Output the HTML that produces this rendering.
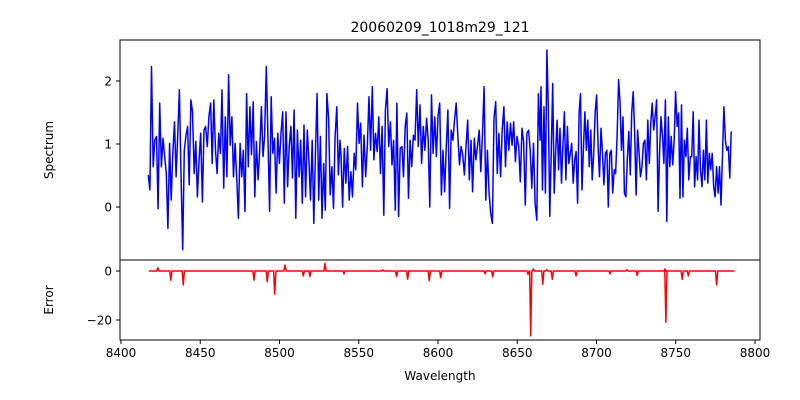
<!DOCTYPE html>
<html><head><meta charset="utf-8"><style>
body{margin:0;background:#fff}
svg{display:block;font-family:"DejaVu Sans","Liberation Sans",sans-serif}
</style></head><body>
<svg id="chart" width="800" height="400" xmlns="http://www.w3.org/2000/svg">
<rect width="800" height="400" fill="#fff"/>
<text x="440" y="32" text-anchor="middle" font-size="14">20060209_1018m29_121</text>
<text transform="translate(53,150) rotate(-90)" text-anchor="middle" font-size="12">Spectrum</text>
<text transform="translate(53,300) rotate(-90)" text-anchor="middle" font-size="12">Error</text>
<text x="440" y="380" text-anchor="middle" font-size="12">Wavelength</text>
<g id="g"></g>
</svg>
<script>
const xTicks=[8400,8450,8500,8550,8600,8650,8700,8750,8800];
const specTicks=[0,1,2];
const errTicks=[-20,0];
const seg1=[.51,.27,2.23,.64,1.06,1.12,-.03,1.65,.64,1.09,.8,.53,-.34,1.01,.11,.85,1.35,.48,1.17,1.86,.53,-.68,.9,1.14,1.28,.35,1.7,1.51,.53,1.04,.16,.75,1.17,.08,1.22,1.28,.96,1.43,1.65,.69,1.7,.9,.53,1.17,.85,1.86,.3,1.43,.48,2.1,.98,1.43,.48,1.01,.43,-.18,1.01,.48,.9,-.07,1.8,.64,1.59,.83,1.67,.16,1.04,.43,.9,1.59,.8,1.12,2.23,1.14,-.07,1.75,.85,1.09,.22,1.17,.69,1.17,1.51,.06,1.51,.32,.96,1.28,.46,1.54,-.18,1.22,.48,1.06,.06,1.3,.16,1.22,.75,.11,1.06,-.26,.9,1.8,.11,1.12,-.18,.69,-.05,1.8,1.41,.19,.64,-.02,1.12,1.59,.51,1.06];
const seg2=[.83,0,.93,.38,.96,.11,.56,.16,.85,.59,1.65,1.01,1.33,.32,1.14,.48,.96,1.75,.9,1.91,.75,1.17,.88,1.43,.53,1.28,-.13,1.54,1.88,.96,1.35,.67,1.06,-.05,1.65,-.15,.93,.96,.48,1.28,1.49,.14,1.06,.64,1.14,1.06,1.86,.96,1.62,.69,1.28,.9,1.41,1.06,0,1.78,.85,1.43,.8,1.46,1.65,.19,.9,.24,.96,1.54,-.02,1.22,1.06,1.38,1.65,1.14,.67,.96,.83,.51,.96,1.38,.43,1.06,.24,1.09,.75,.98,1.22,.56,1.17,1.91,.11,.9,.22,-.1,-.26,1.41,1.67,.53,1.17,.48,1.22,1.59,.64,1.35,.9,1.33,.98,1.35,.72,1.12,.96,.4,1.25,1.04,.03,1.17,1.22,.9,.3,1.01,.06,-.21,1.8,1.06];
const seg3=[1.91,.27,1.59,.22,2.49,1.59,-.15,.9,1.96,.22,.9,1.38,.59,1.25,.38,1.01,1.51,.43,1.28,.69,.85,1.01,.38,.75,.88,.06,1.49,1.8,.27,.96,1.51,.9,1.38,.64,1.22,.43,.85,1.51,1.78,.96,.48,1.25,.85,.35,.85,.9,0,.85,.9,.22,.59,.53,1.12,2.02,1.67,.9,1.43,.22,.16,.75,1.2,.51,1.49,1.83,1.17,.19,1.22,.85,.48,.64,1.01,1.06,.43,1.38,.69,1.33,1.65,1.22,1.43,1.7,-.07,.85,1.43,1.12,.69,1.7,-.23,1.43,.64,1.12,.67,1.06,1.83,1.28,1.49,.14,1.62,.16,1.06,.8,1.25,.43,.8,.8,1.51,.32,.8,.43,1.38,.59,.32,.9,.43,1.38,.38,.85,.59,.85,.32,.16,.64,.22,.64,.03,.77,1.59,1.06,.9,.96,.46,1.2];
const segStart=[8417.2,8538.8,8665.0];
const segEnd=[8538.2,8664.4,8785.0];
const errWl=[8423.2,8431.4,8439.3,8483.9,8492.3,8497.0,8503.5,8515.0,8519.2,8528.7,8540.7,8565.1,8573.9,8580.9,8594.5,8601.7,8629.7,8634.5,8656.8,8658.5,8660.1,8666.1,8668.6,8672.1,8687.1,8708.5,8719.1,8725.7,8743.2,8743.8,8754.1,8757.9,8775.8];
const errVal=[1.3,-3.7,-5.7,-3.7,-4.4,-9.5,2.4,-2,-2.3,3.1,-1.2,.5,-2.3,-3.3,-4,-2.7,-1.2,-2.3,-1.4,-26.5,.8,-5.4,.5,-3.4,-2,-1.2,.5,-1.8,.8,-21,-3.4,-2,-5.7];
const errRange=[8417.5,8787];

const L=120,R=760,T1=40,B1=260,B2=340;
const xs=w=>121+(w-8400)*1.585;
const ys=v=>207-v*63;
const ye=v=>271-v*2.45;
const NS='http://www.w3.org/2000/svg';
const g=document.getElementById('g');
function mk(tag,at){const e=document.createElementNS(NS,tag);for(const k in at)e.setAttribute(k,at[k]);g.appendChild(e);return e;}

// spectrum line
let pts=[];
[seg1,seg2,seg3].forEach((s,i)=>{s.forEach((v,j)=>{const w=segStart[i]+(segEnd[i]-segStart[i])*j/(s.length-1);pts.push(xs(w).toFixed(1)+','+ys(v).toFixed(1));});});
const sl=mk('polyline',{points:pts.join(' '),fill:'none',stroke:'#0000ff','stroke-width':1.5,'stroke-linejoin':'round'});



// error line
let ep=[[errRange[0],0]];
errWl.forEach((w,i)=>{ep.push([w-0.7,0]);ep.push([w,errVal[i]]);ep.push([w+0.7,0]);});
ep.push([errRange[1],0]);
const el=mk('polyline',{points:ep.map(p=>xs(p[0]).toFixed(1)+','+ye(p[1]).toFixed(1)).join(' '),fill:'none',stroke:'#ff0000','stroke-width':1.5,'stroke-linejoin':'round'});



// frames
const f1=mk('rect',{x:L,y:T1,width:R-L,height:B1-T1,fill:'none',stroke:'#000','stroke-width':1});


const f2=mk('rect',{x:L,y:B1,width:R-L,height:B2-B1,fill:'none',stroke:'#000','stroke-width':1});



xTicks.forEach(t=>{const x=xs(t);
 const tk=mk('line',{x1:x,x2:x,y1:B2,y2:B2+4,stroke:'#000'});
 
 
 const lb=mk('text',{x:x,y:B2+17,'text-anchor':'middle','font-size':12});lb.textContent=t;
 
 
});
specTicks.forEach(t=>{const y=ys(t);
 const tk=mk('line',{x1:L-4,x2:L,y1:y,y2:y,stroke:'#000'});
 
 
 const lb=mk('text',{x:L-8,y:y+4.5,'text-anchor':'end','font-size':12});lb.textContent=t;
 
 
});
errTicks.forEach(t=>{const y=ye(t);
 const tk=mk('line',{x1:L-4,x2:L,y1:y,y2:y,stroke:'#000'});
 
 
 const lb=mk('text',{x:L-8,y:y+4.5,'text-anchor':'end','font-size':12});lb.textContent=(t<0?'\u2212'+(-t):t);
 
 
});
</script>
</body></html>
